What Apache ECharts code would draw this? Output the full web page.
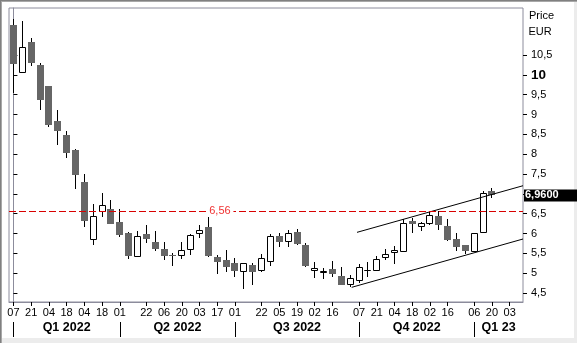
<!DOCTYPE html>
<html><head><meta charset="utf-8">
<script src="https://cdn.jsdelivr.net/npm/echarts@6/dist/echarts.min.js"></script>
<style>html,body{margin:0;padding:0;background:#fff}#c{width:577px;height:343px}</style>
</head><body><div id="c"></div><script>
var weeks = ['2022-01-07','2022-01-14','2022-01-21','2022-01-28','2022-02-04','2022-02-11','2022-02-18','2022-02-25',
 '2022-03-04','2022-03-11','2022-03-18','2022-03-25','2022-04-01','2022-04-08','2022-04-15','2022-04-22','2022-04-29',
 '2022-05-06','2022-05-13','2022-05-20','2022-05-27','2022-06-03','2022-06-10','2022-06-17','2022-06-24',
 '2022-07-01','2022-07-08','2022-07-15','2022-07-22','2022-07-29','2022-08-05','2022-08-12','2022-08-19','2022-08-26',
 '2022-09-02','2022-09-09','2022-09-16','2022-09-23','2022-09-30','2022-10-07','2022-10-14','2022-10-21','2022-10-28',
 '2022-11-04','2022-11-11','2022-11-18','2022-11-25','2022-12-02','2022-12-09','2022-12-16','2022-12-23','2022-12-30',
 '2023-01-06','2023-01-13','2023-01-20','2023-01-27','2023-02-03','2023-02-10'];
var open  = [11.26,10.08,10.83,10.25,9.72,8.84,8.48,8.11,7.30,5.85,6.58,6.62,6.29,6.02,5.44,5.99,5.79,5.61,5.46,5.45,
 5.60,6.01,6.16,5.41,5.34,5.25,5.05,5.21,5.08,5.31,5.95,5.80,6.04,5.70,5.07,5.04,5.10,4.93,4.72,4.82,
 5.08,5.09,5.42,5.53,5.55,6.32,6.19,6.26,6.44,6.19,5.86,5.71,5.56,6.04,7.07];
var close = [10.27,10.69,10.29,9.37,8.74,8.59,8.04,7.48,6.32,6.43,6.72,6.25,5.97,5.44,5.95,5.87,5.62,5.44,5.45,5.58,
 5.96,6.08,5.44,5.29,5.16,5.06,5.25,5.02,5.38,5.93,5.78,6.01,5.73,5.17,5.14,5.05,4.97,4.71,4.88,5.16,
 5.09,5.35,5.48,5.58,6.26,6.24,6.26,6.46,6.22,5.84,5.65,5.55,6.01,7.01,6.96];
var high  = [11.41,11.36,10.93,10.29,9.73,9.11,8.58,8.14,7.50,6.74,7.01,6.84,6.62,6.04,6.06,6.22,6.06,5.79,5.50,5.78,
 5.99,6.21,6.42,5.46,5.59,5.38,5.26,5.25,5.48,5.99,6.02,6.09,6.12,5.75,5.29,5.13,5.30,5.15,4.95,5.23,
 5.27,5.44,5.62,5.69,6.36,6.38,6.28,6.55,6.56,6.36,6.02,5.72,6.02,7.06,7.15];
var low   = [9.55,10.05,10.22,9.11,8.69,8.24,7.91,7.13,6.16,5.70,6.42,6.23,5.92,5.35,5.42,5.76,5.55,5.34,5.19,5.37,
 5.47,5.89,5.42,4.98,5.02,4.91,4.59,4.70,5.02,5.19,5.67,5.67,5.72,5.16,4.89,4.86,4.90,4.71,4.64,4.75,
 4.90,5.08,5.34,5.23,5.55,6.02,6.07,6.21,6.09,5.80,5.55,5.49,5.54,6.03,6.90];
var xTickDates = ['2022-01-07','2022-01-21','2022-02-04','2022-02-18','2022-03-04','2022-03-18','2022-04-01','2022-04-22',
 '2022-05-06','2022-05-20','2022-06-03','2022-06-17','2022-07-01','2022-07-22','2022-08-05','2022-08-19','2022-09-02',
 '2022-09-16','2022-10-07','2022-10-21','2022-11-04','2022-11-18','2022-12-02','2022-12-16','2023-01-06','2023-01-20','2023-02-03'];
var yTickValues = [4.5,5,5.5,6,6.5,7,7.5,8,8.5,9,9.5,10,10.5];
var yLabelValues = [4.5,5,5.5,6,6.5,7.5,8,8.5,9,9.5,10,10.5];
var quarterLabels = ['Q1 2022','Q2 2022','Q3 2022','Q4 2022','Q1 23'];
var quarterStarts = ['2022-01-07','2022-04-01','2022-07-01','2022-10-07','2023-01-06'];
var upperChannel = [[38.77, 6.03],[57.5, 7.205]];
var lowerChannel = [[38.17, 4.644],[57.5, 5.862]];
var resistance = 6.56;
var resistanceLabelAt = 23.3;
var lastPrice = 6.96;

var FONT = "'Liberation Sans', Arial, sans-serif";
var Y_MIN = 4.274, Y_MAX = 11.685;
var candles = open.map(function(o, i){ return [i, o, close[i], low[i], high[i]]; });
var tickSet = {};
xTickDates.forEach(function(d){ tickSet[d] = true; });
var qStartIdx = quarterStarts.map(function(d){ return weeks.indexOf(d); });
var xMin = -0.5, xMax = weeks.length - 0.5;
var qMid = qStartIdx.map(function(s, k){ var e = k + 1 < qStartIdx.length ? qStartIdx[k+1] : xMax; return (s + e) / 2; });
function fmtNum(v){ return String(v).replace('.', ','); }

var chart = echarts.init(document.getElementById('c'), null, {renderer:'canvas'});
chart.setOption({
  animation: false,
  backgroundColor: '#fff',
  grid: {left: 9, right: 54, top: 8, bottom: 41, show: true, borderColor: '#8c8c9c', borderWidth: 1, backgroundColor: 'transparent', containLabel: false},
  xAxis: [{
    type: 'category', data: weeks, boundaryGap: true,
    axisLine: {show: true, lineStyle: {color: '#8c8c9c'}},
    axisTick: {show: true, alignWithLabel: true, length: 4, lineStyle: {color: '#000'},
      interval: function(i, v){ return !!tickSet[v]; }},
    axisLabel: {interval: function(i, v){ return !!tickSet[v]; }, formatter: function(v){ return v.slice(8, 10); },
      fontSize: 11, fontFamily: FONT, color: '#000', margin: 5, hideOverlap: false},
    splitLine: {show: false}
  }, {
    type: 'value', min: xMin, max: xMax, position: 'bottom', offset: 20,
    axisLine: {show: false}, splitLine: {show: false},
    axisTick: {show: true, customValues: qStartIdx, length: 15, lineStyle: {color: '#000'}},
    axisLabel: {customValues: qMid, formatter: function(v){ var k = qMid.indexOf(v); return k >= 0 ? quarterLabels[k] : ''; },
      fontSize: 12.5, fontWeight: 'bold', fontFamily: FONT, color: '#000', margin: -1, hideOverlap: false}
  }],
  yAxis: [{
    type: 'value', position: 'right', min: Y_MIN, max: Y_MAX,
    axisLine: {show: true, lineStyle: {color: '#8c8c9c'}},
    splitLine: {show: false},
    axisTick: {show: true, customValues: yTickValues, length: 4, lineStyle: {color: '#000'}},
    axisLabel: {customValues: yLabelValues, margin: 8, fontSize: 11, fontFamily: FONT, color: '#000',
      formatter: function(v){ return v === 10 ? '{b|10}' : fmtNum(v); },
      rich: {b: {fontSize: 13.5, fontWeight: 'bold', fontFamily: FONT, color: '#000'}}}
  }, {
    type: 'value', position: 'right', min: Y_MIN, max: Y_MAX, offset: 0,
    axisLine: {show: false}, splitLine: {show: false},
    axisTick: {show: true, customValues: yTickValues, length: 4, lineStyle: {color: '#000'}},
    axisLabel: {show: true, customValues: yTickValues, formatter: function(){ return ''; }}
  }],
  series: [{
    type: 'custom', xAxisIndex: 0, yAxisIndex: 0, clip: true, z: 3,
    data: candles,
    encode: {x: 0, y: [1, 2, 3, 4]},
    renderItem: function(params, api){
      var i = api.value(0), o = api.value(1), c = api.value(2), l = api.value(3), h = api.value(4);
      var pO = api.coord([i, o]), pC = api.coord([i, c]), pL = api.coord([i, l]), pH = api.coord([i, h]);
      var cx = Math.floor(pO[0]) + 0.5;
      var children = [{type: 'line', shape: {x1: cx, y1: Math.round(pH[1]), x2: cx, y2: Math.round(pL[1])},
        style: {stroke: '#000', lineWidth: 1}}];
      if (c >= o) {
        var t = Math.round(pC[1]) + 0.5, b = Math.round(pO[1]) + 0.5;
        if (b < t) b = t;
        children.push({type: 'rect', shape: {x: cx - 3, y: t, width: 6, height: b - t},
          style: {fill: '#fff', stroke: '#000', lineWidth: 1}});
      } else {
        var t2 = Math.round(pO[1]), b2 = Math.round(pC[1]);
        if (b2 - t2 < 1) b2 = t2 + 1;
        children.push({type: 'rect', shape: {x: cx - 3.5, y: t2, width: 7, height: b2 - t2},
          style: {fill: '#666666'}});
      }
      return {type: 'group', children: children};
    }
  }, {
    type: 'line', xAxisIndex: 1, yAxisIndex: 0, data: upperChannel, showSymbol: false, symbol: 'none', clip: true,
    lineStyle: {color: '#000', width: 1}, silent: true, z: 4,
    markLine: {silent: true, symbol: ['none', 'none'], animation: false,
      data: [
        {yAxis: resistance, lineStyle: {color: '#d80000', type: [7, 3], width: 1, opacity: 1}, label: {show: false}},
        {yAxis: lastPrice, lineStyle: {color: 'rgba(0,0,0,0)', width: 1, opacity: 1},
          label: {show: true, position: 'end', distance: 1, formatter: function(p){ return p.value.toFixed(4).replace('.', ','); },
            backgroundColor: '#000', color: '#fff', fontSize: 11, fontWeight: 'bold', fontFamily: FONT,
            padding: [1, 26, 0, 1], lineHeight: 11}}
      ]},
    markPoint: {silent: true, animation: false,
      data: [{coord: [resistanceLabelAt, resistance], value: resistance, symbol: 'rect', symbolSize: [27, 11],
        itemStyle: {color: '#fff'},
        label: {show: true, position: 'inside', formatter: function(p){ return fmtNum(p.value); },
          color: '#f03232', fontSize: 11, fontFamily: FONT}}]}
  }, {
    type: 'line', xAxisIndex: 1, yAxisIndex: 0, data: lowerChannel, showSymbol: false, symbol: 'none', clip: true,
    lineStyle: {color: '#000', width: 1}, silent: true, z: 4
  }],
  graphic: [
    {type: 'rect', silent: true, z: -10, shape: {x: 0, y: 338, width: 577, height: 5}, style: {fill: '#ececec'}},
    {type: 'rect', silent: true, z: -10, shape: {x: 574, y: 0, width: 3, height: 343}, style: {fill: '#ececec'}},
    {type: 'rect', silent: true, z: 10, shape: {x: 0, y: 0, width: 577, height: 1}, style: {fill: '#808080'}},
    {type: 'rect', silent: true, z: 10, shape: {x: 0, y: 1, width: 577, height: 1}, style: {fill: '#a8a8a8'}},
    {type: 'rect', silent: true, z: 10, shape: {x: 0, y: 0, width: 1, height: 343}, style: {fill: '#808080'}},
    {type: 'rect', silent: true, z: 10, shape: {x: 1, y: 1, width: 1, height: 342}, style: {fill: '#a8a8a8'}},
    {type: 'text', silent: true, x: 529, y: 15.5, style: {text: 'Price', fontSize: 11, fontFamily: FONT, fill: '#000', verticalAlign: 'middle'}},
    {type: 'text', silent: true, x: 528.5, y: 31.7, style: {text: 'EUR', fontSize: 11, fontFamily: FONT, fill: '#000', verticalAlign: 'middle'}}
  ]
});
</script></body></html>
